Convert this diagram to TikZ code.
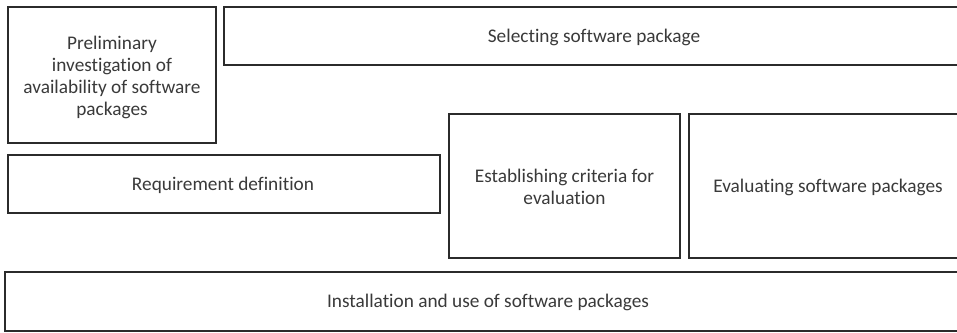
\documentclass[tikz,border=0pt]{standalone}
\usepackage{fontspec}
\setmainfont{Carlito}[Ligatures=NoCommon]
\definecolor{edge}{HTML}{2B2B2B}
\definecolor{ink}{HTML}{3A3A3A}
\begin{document}
\begin{tikzpicture}[x=1pt,y=1pt,
  stage/.style={draw=edge, line width=1.6pt, fill=white},
  label/.style={text=ink, font=\fontsize{19.3}{22}\selectfont, align=center, inner sep=0pt}]
\useasboundingbox (0,0) rectangle (957,332);
% boxes (y measured upward from the bottom edge)
\draw[stage] (8,189) rectangle (216,325);
\draw[stage] (960,325) -- (224,325) -- (224,267) -- (960,267);
\draw[stage] (8,177) rectangle (440,119);
\draw[stage] (449,218) rectangle (680,74);
\draw[stage] (960,218) -- (689,218) -- (689,74) -- (960,74);
\draw[stage] (960,60) -- (5,60) -- (5,1) -- (960,1);
% labels
\node[label] (prelim) at (112,255) {Preliminary\\investigation of\\availability of software\\packages};
\node[label] (select) at (594,295) {Selecting software package};
\node[label] (req) at (223,147) {Requirement definition};
\node[label] (crit) at (564.5,145) {Establishing criteria for\\evaluation};
\node[label] (eval) at (828,145) {Evaluating software packages};
\node[label] (inst) at (488,30) {Installation and use of software packages};
\end{tikzpicture}
\end{document}
